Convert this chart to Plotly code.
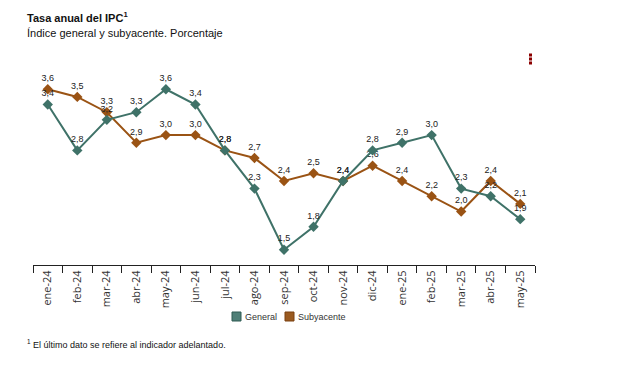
import plotly.graph_objects as go

months = ["ene-24", "feb-24", "mar-24", "abr-24", "may-24", "jun-24", "jul-24", "ago-24",
          "sep-24", "oct-24", "nov-24", "dic-24", "ene-25", "feb-25", "mar-25", "abr-25", "may-25"]
general = [3.4, 2.8, 3.2, 3.3, 3.6, 3.4, 2.8, 2.3, 1.5, 1.8, 2.4, 2.8, 2.9, 3.0, 2.3, 2.2, 1.9]
subyacente = [3.6, 3.5, 3.3, 2.9, 3.0, 3.0, 2.8, 2.7, 2.4, 2.5, 2.4, 2.6, 2.4, 2.2, 2.0, 2.4, 2.1]

C_GEN = "#3f7268"
C_SUB = "#9a5314"

OFF = 8  # page body margin
W, H = 620, 368
# desired screen positions of plot area
SL, SR, ST, SB = 33, 535, 74, 265
L = SL - OFF
T = ST - OFF
R = W - (SR - OFF)
B = H - (SB - OFF)
PW, PH = SR - SL, SB - ST


def px(x):
    return (x - SL) / PW


def py(y):
    return (SB - y) / PH


fig = go.Figure()
for name, vals, col in [("Subyacente", subyacente, C_SUB), ("General", general, C_GEN)]:
    fig.add_trace(go.Scatter(
        x=months, y=vals, mode="lines+markers+text", name=name,
        line=dict(color=col, width=2),
        marker=dict(symbol="diamond", size=8, color=col),
        text=[f"{v:.1f}".replace(".", ",") for v in vals],
        textposition="top center",
        textfont=dict(family="Liberation Sans, Arial", size=9, color="#222222"),
        showlegend=False, cliponaxis=False,
    ))

shapes = []
annotations = []
for name, col, border, bx in [("General", "#4f7f77", "#2f5a53", 232), ("Subyacente", "#9a5a20", "#7a4010", 285)]:
    shapes.append(dict(type="rect", xref="paper", yref="paper",
                       x0=px(bx), x1=px(bx + 9), y0=py(321), y1=py(312),
                       fillcolor=col, line=dict(color=border, width=1)))
    annotations.append(dict(text=name, x=px(bx + 11), y=py(316.5), xref="paper", yref="paper",
                            xanchor="left", yanchor="middle", showarrow=False,
                            font=dict(family="Liberation Sans, Arial", size=9, color="#333333")))

annotations += [
    dict(text="<b>Tasa anual del IPC<sup>1</sup></b>", x=px(25), y=py(17), xref="paper", yref="paper",
         xanchor="left", yanchor="middle", showarrow=False,
         font=dict(family="Liberation Sans, Arial", size=11, color="#111111")),
    dict(text="Índice general y subyacente. Porcentaje", x=px(25), y=py(33), xref="paper", yref="paper",
         xanchor="left", yanchor="middle", showarrow=False,
         font=dict(family="Liberation Sans, Arial", size=11, color="#111111")),
    dict(text="<sup>1</sup> El último dato se refiere al indicador adelantado.", x=px(25), y=py(344),
         xref="paper", yref="paper", xanchor="left", yanchor="middle", showarrow=False,
         font=dict(family="Liberation Sans, Arial", size=9, color="#111111")),
]
for yy in (55, 59, 63):
    shapes.append(dict(type="rect", xref="paper", yref="paper",
                       x0=px(529), x1=px(532), y0=py(yy + 1.5), y1=py(yy - 1.5),
                       fillcolor="#8b0000", line=dict(width=0)))

fig.update_layout(
    width=W, height=H,
    margin=dict(l=L, r=R, t=T, b=B, autoexpand=False),
    paper_bgcolor="white", plot_bgcolor="white",
    font=dict(family="Liberation Sans, Arial", color="#222222"),
    showlegend=False,
    xaxis=dict(
        type="category", range=[-0.5, 16.5], showgrid=False, zeroline=False,
        showline=True, linecolor="#222222", linewidth=1,
        ticks="outside", tickson="boundaries", ticklen=7, tickcolor="#222222",
        tickangle=-90, tickfont=dict(family="Open Sans, Liberation Sans", size=11, color="#333333"),
    ),
    yaxis=dict(range=[1.3, 3.8], visible=False, showgrid=False, zeroline=False),
    shapes=shapes,
    annotations=annotations,
)

fig.write_html("out.html")
